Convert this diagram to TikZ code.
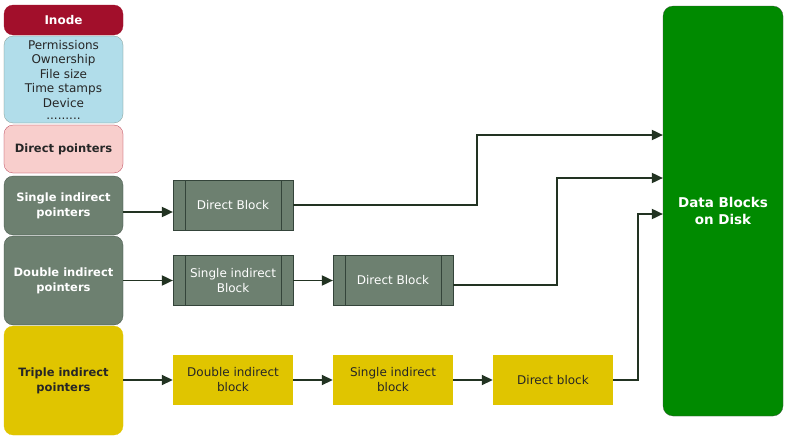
\documentclass[tikz,border=0pt]{standalone}
\usepackage{fontspec}
\setmainfont{DejaVu Sans}
\usetikzlibrary{arrows.meta}
\definecolor{inodered}{HTML}{A20F2B}
\definecolor{infoblue}{HTML}{B1DDEA}
\definecolor{ptrpink}{HTML}{F8CECC}
\definecolor{ptrgray}{HTML}{6D8070}
\definecolor{ptrdark}{HTML}{34443A}
\definecolor{ptryellow}{HTML}{E0C500}
\definecolor{diskgreen}{HTML}{008A00}
\definecolor{linkcol}{HTML}{223322}
\begin{document}
\begin{tikzpicture}[x=1pt, y=-1pt,
	field/.style={ rounded corners=9pt, draw, very thin, minimum width=119pt, inner sep=0pt, align=center, font=\bfseries\fontsize{11.5}{15}\selectfont },
	fieldg/.style={ field, fill=ptrgray, draw=ptrdark, text=white },
	fieldy/.style={ field, fill=ptryellow, draw=ptryellow, text=black!85 },
	blockg/.style={ draw=ptrdark, very thin, fill=ptrgray, text=white, minimum width=120pt, minimum height=50pt, inner sep=0pt, align=center, font=\fontsize{12}{15}\selectfont,
		path picture={ \draw[ptrdark, very thin] ([xshift=12pt]path picture bounding box.north west) -- ([xshift=12pt]path picture bounding box.south west);
			\draw[ptrdark, very thin] ([xshift=-12pt]path picture bounding box.north east) -- ([xshift=-12pt]path picture bounding box.south east); } },
	blocky/.style={ fill=ptryellow, text=black!85, minimum width=120pt, minimum height=50pt, inner sep=0pt, align=center, font=\fontsize{12}{15}\selectfont },
	link/.style={ draw=linkcol, line width=1.8pt, -{Triangle[length=11pt, width=10pt]} }
]
\useasboundingbox (0,0) rectangle (785,439);

% inode fields
\node[field, fill=inodered, draw=inodered, text=white, minimum height=30pt, font=\bfseries\fontsize{12}{14}\selectfont] at (63.5,20) (inode) {Inode};
\node[field, fill=infoblue, draw=ptrgray, text=black!85, minimum height=87pt] at (63.5,79.5) (info) {};
\node[align=center, text=black!85, inner sep=0pt, font=\fontsize{12}{14.5}\selectfont] at (63.5,80) (infotext) {Permissions\\Ownership\\File size\\Time stamps\\Device\\[-2pt].........};
\node[field, fill=ptrpink, draw=inodered, text=black!85, minimum height=48pt] at (63.5,149) (dp) {Direct pointers};
\node[fieldg, minimum height=59pt] at (63.5,205.5) (sip) {Single indirect\\pointers};
\node[fieldg, minimum height=89pt] at (63.5,280.5) (dip) {Double indirect\\pointers};
\node[fieldy, minimum height=109pt] at (63.5,380.5) (tip) {Triple indirect\\pointers};

% blocks
\node[blockg] at (233,205) (db1) {Direct Block};
\node[blockg] at (233,280.5) (sib2) {Single indirect\\Block};
\node[blockg] at (393,280.5) (db2) {Direct Block};
\node[blocky] at (233,380) (dib3) {Double indirect\\block};
\node[blocky] at (393,380) (sib3) {Single indirect\\block};
\node[blocky] at (553,380) (db3) {Direct block};

\node[rounded corners=10pt, draw=black!70, very thin, fill=diskgreen, text=white, minimum width=120pt, minimum height=410pt, align=center, font=\bfseries\fontsize{13.5}{17}\selectfont] at (723,211) (disk) {Data Blocks\\on Disk};

\coordinate (row1) at (0,212);
\coordinate (bend1) at (477,135);
\coordinate (bend2) at (557,178);
\coordinate (bend3) at (638,214);

\draw[link] (sip.east |- row1) -- (db1.west |- row1);
\draw[link] (dip.east) -- (sib2.west);
\draw[link] (sib2.east) -- (db2.west);
\draw[link] (tip.east |- dib3.west) -- (dib3.west);
\draw[link] (dib3.east) -- (sib3.west);
\draw[link] (sib3.east) -- (db3.west);

\draw[link] (db1.east) -| (bend1) -- (bend1 -| disk.west);
\draw[link] ([yshift=-4.5pt]db2.east) -| (bend2) -- (bend2 -| disk.west);
\draw[link] (db3.east) -| (bend3) -- (bend3 -| disk.west);

\end{tikzpicture}
\end{document}
